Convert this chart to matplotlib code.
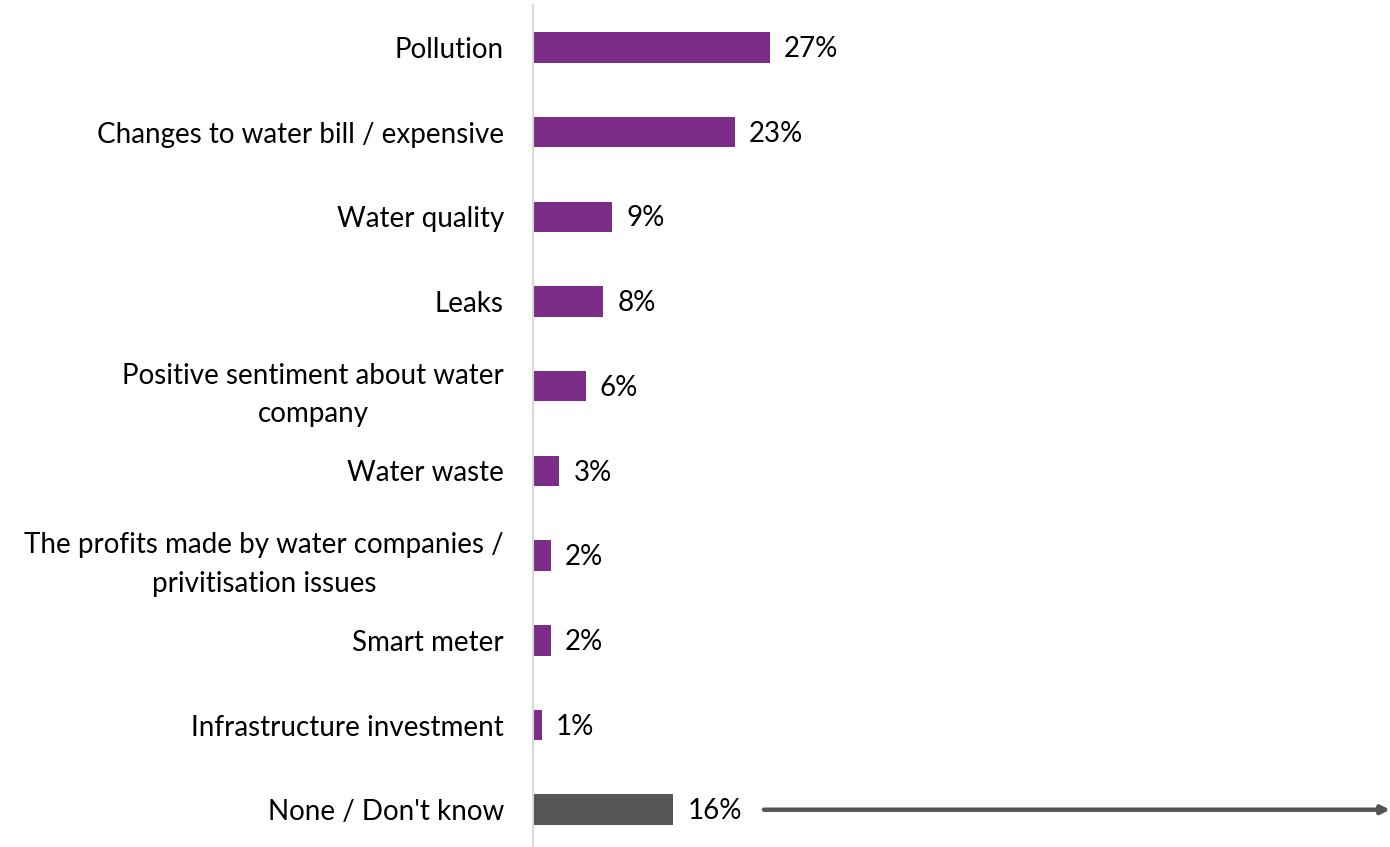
import matplotlib
matplotlib.use("Agg")
import matplotlib.pyplot as plt

categories = [
    "Pollution",
    "Changes to water bill / expensive",
    "Water quality",
    "Leaks",
    "Positive sentiment about water\ncompany",
    "Water waste",
    "The profits made by water companies /\nprivitisation issues",
    "Smart meter",
    "Infrastructure investment",
    "None / Don't know",
]
values = [27, 23, 9, 8, 6, 3, 2, 2, 1, 16]
value_labels = ["27%", "23%", "9%", "8%", "6%", "3%", "2%", "2%", "1%", "16%"]

PURPLE = "#7B2D87"
GREY = "#555555"
colors = [PURPLE] * 9 + [GREY]

plt.rcParams["font.family"] = ["Lato", "DejaVu Sans"]
FS = 20

fig = plt.figure(figsize=(13.9, 8.47), dpi=100)
ax = fig.add_axes([533 / 1390, 0.0, 1 - 533 / 1390, (847 - 5) / 847])

y = list(range(len(categories)))
ax.barh(y, values, height=0.36, color=colors)

ax.set_xlim(0, 97.6)
ax.set_ylim(len(categories) - 0.56, -0.5)

for yi, v, lab in zip(y, values, value_labels):
    ax.text(v + 1.6, yi + 0.02, lab, va="center", ha="left", fontsize=FS, color="black")

ax.set_yticks(y)
ax.set_yticklabels(categories, fontsize=FS, multialignment="center", linespacing=1.6)
ax.tick_params(axis="y", length=0, pad=21)
ax.set_xticks([])

for s in ["top", "right", "bottom"]:
    ax.spines[s].set_visible(False)
ax.spines["left"].set_color("#D9D9D9")
ax.spines["left"].set_linewidth(1.5)

# arrow beside the "None / Don't know" bar
ax.annotate("", xy=(97.6, 9), xytext=(26.3, 9),
            arrowprops=dict(arrowstyle="-|>", color=GREY, lw=3.2,
                            mutation_scale=12, shrinkA=0, shrinkB=0),
            annotation_clip=False)

fig.savefig("out.png", dpi=100)
